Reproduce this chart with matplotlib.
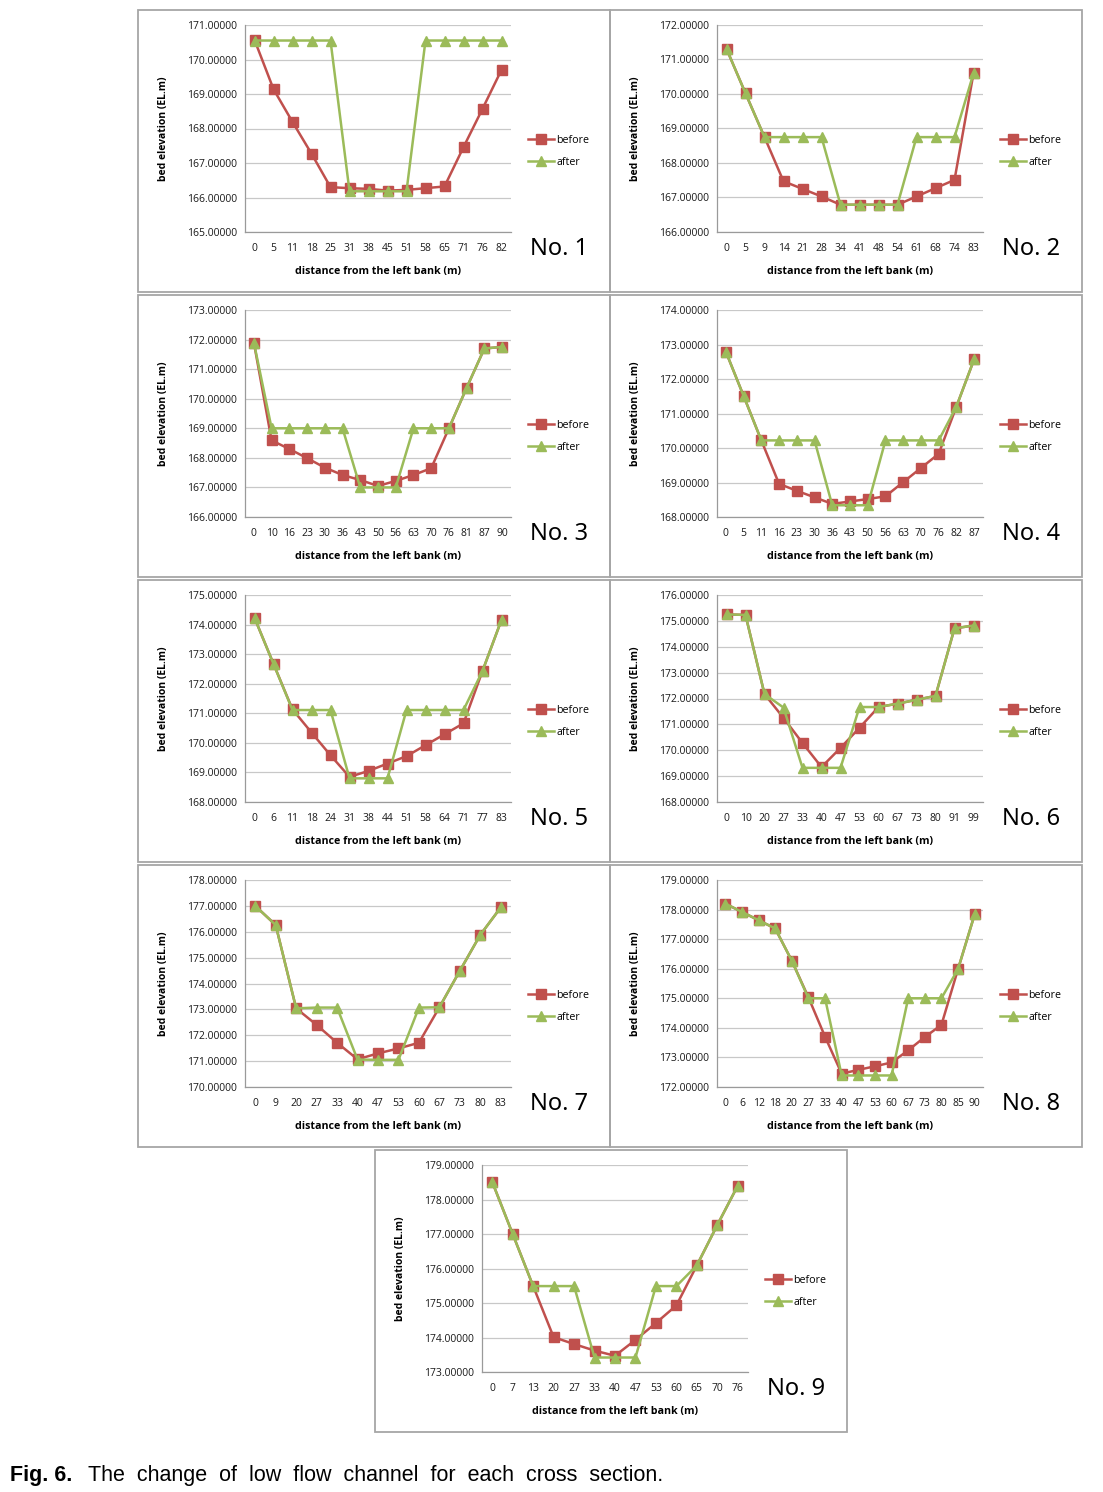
import numpy as np
import matplotlib.pyplot as plt
from matplotlib.patches import Rectangle

W, H = 1103, 1492

# ---- data ----
dist1 = ['0', '5', '11', '18', '25', '31', '38', '45', '51', '58', '65', '71', '76', '82']
before1 = [170.57, 169.14, 168.19, 167.27, 166.30, 166.27, 166.25, 166.20, 166.22, 166.27, 166.32, 167.46, 168.57, 169.70]
after1 = [170.55, 170.55, 170.55, 170.55, 170.55, 166.18, 166.18, 166.18, 166.18, 170.55, 170.55, 170.55, 170.55, 170.55]

dist2 = ['0', '5', '9', '14', '21', '28', '34', '41', '48', '54', '61', '68', '74', '83']
before2 = [171.31, 170.02, 168.75, 167.47, 167.25, 167.03, 166.79, 166.79, 166.79, 166.79, 167.03, 167.27, 167.51, 170.60]
after2 = [171.31, 170.02, 168.75, 168.75, 168.75, 168.75, 166.79, 166.79, 166.79, 166.79, 168.75, 168.75, 168.75, 170.60]

dist3 = ['0', '10', '16', '23', '30', '36', '43', '50', '56', '63', '70', '76', '81', '87', '90']
before3 = [171.90, 168.59, 168.30, 167.99, 167.67, 167.42, 167.25, 167.05, 167.22, 167.42, 167.65, 169.00, 170.37, 171.70, 171.75]
after3 = [171.90, 169.00, 169.00, 169.00, 169.00, 169.00, 167.00, 167.00, 167.00, 169.00, 169.00, 169.00, 170.37, 171.70, 171.75]

dist4 = ['0', '5', '11', '16', '23', '30', '36', '43', '50', '56', '63', '70', '76', '82', '87']
before4 = [172.79, 171.51, 170.22, 168.96, 168.76, 168.57, 168.38, 168.45, 168.52, 168.60, 169.01, 169.42, 169.83, 171.20, 172.57]
after4 = [172.79, 171.51, 170.22, 170.22, 170.22, 170.22, 168.34, 168.34, 168.34, 170.22, 170.22, 170.22, 170.22, 171.20, 172.57]

dist5 = ['0', '6', '11', '18', '24', '31', '38', '44', '51', '58', '64', '71', '77', '83']
before5 = [174.23, 172.67, 171.13, 170.35, 169.58, 168.85, 169.05, 169.30, 169.55, 169.92, 170.29, 170.66, 172.43, 174.16]
after5 = [174.23, 172.67, 171.11, 171.11, 171.11, 168.80, 168.80, 168.80, 171.11, 171.11, 171.11, 171.11, 172.43, 174.16]

dist6 = ['0', '10', '20', '27', '33', '40', '47', '53', '60', '67', '73', '80', '91', '99']
before6 = [175.25, 175.23, 172.17, 171.25, 170.28, 169.35, 170.09, 170.87, 171.67, 171.80, 171.95, 172.10, 174.71, 174.82]
after6 = [175.25, 175.23, 172.17, 171.65, 169.32, 169.32, 169.32, 171.67, 171.67, 171.80, 171.95, 172.10, 174.71, 174.82]

dist7 = ['0', '9', '20', '27', '33', '40', '47', '53', '60', '67', '73', '80', '83']
before7 = [177.00, 176.26, 173.04, 172.40, 171.71, 171.07, 171.30, 171.49, 171.71, 173.08, 174.49, 175.88, 176.94]
after7 = [177.00, 176.26, 173.04, 173.07, 173.07, 171.06, 171.05, 171.05, 173.07, 173.08, 174.49, 175.88, 176.94]

dist8 = ['0', '6', '12', '18', '20', '27', '33', '40', '47', '53', '60', '67', '73', '80', '85', '90']
before8 = [178.20, 177.92, 177.64, 177.36, 176.27, 175.03, 173.70, 172.45, 172.58, 172.70, 172.83, 173.24, 173.69, 174.10, 175.99, 177.84]
after8 = [178.20, 177.92, 177.64, 177.36, 176.27, 175.00, 175.00, 172.39, 172.39, 172.39, 172.39, 175.00, 175.00, 175.00, 175.99, 177.84]

dist9 = ['0', '7', '13', '20', '27', '33', '40', '47', '53', '60', '65', '70', '76']
before9 = [178.51, 177.00, 175.49, 174.01, 173.81, 173.62, 173.47, 173.93, 174.42, 174.93, 176.09, 177.26, 178.40]
after9 = [178.51, 177.00, 175.49, 175.49, 175.49, 173.42, 173.42, 173.42, 175.49, 175.49, 176.09, 177.26, 178.40]

ylims = [(165, 171), (166, 172), (166, 173), (168, 174), (168, 175),
         (168, 176), (170, 178), (172, 179), (173, 179)]

panels = [(dist1, before1, after1), (dist2, before2, after2), (dist3, before3, after3),
          (dist4, before4, after4), (dist5, before5, after5), (dist6, before6, after6),
          (dist7, before7, after7), (dist8, before8, after8), (dist9, before9, after9)]

# box top-left corners in pixels
boxes = [(138, 10), (610, 10), (138, 295), (610, 295), (138, 580), (610, 580),
         (138, 865), (610, 865), (375, 1150)]
BW, BH = 472, 282
PL, PT, PW, PH = 107, 15, 266, 207

RED = '#C0504D'
GREEN = '#9BBB59'

plt.rcParams['font.family'] = ['Open Sans', 'Noto Sans', 'DejaVu Sans']

fig = plt.figure(figsize=(W / 100, H / 100), dpi=100)


def frac(x, y, w, h):
    return [x / W, 1 - (y + h) / H, w / W, h / H]


for i, ((d, b, a), (bx, by), (y0, y1)) in enumerate(zip(panels, boxes, ylims)):
    fig.patches.append(Rectangle((bx / W, 1 - (by + BH) / H), BW / W, BH / H,
                                 transform=fig.transFigure, fill=False,
                                 edgecolor='#a6a6a6', linewidth=1.3))
    ax = fig.add_axes(frac(bx + PL, by + PT, PW, PH))
    x = np.arange(len(d))
    ax.plot(x, b, color=RED, marker='s', ms=6.5, lw=1.8, label='before')
    ax.plot(x, a, color=GREEN, marker='^', ms=7, lw=1.8, label='after')
    ax.set_xlim(-0.5, len(d) - 0.5)
    ax.set_ylim(y0, y1)
    ax.set_xticks(x)
    ax.set_xticklabels(d)
    yt = np.arange(y0, y1 + 1)
    ax.set_yticks(yt)
    ax.set_yticklabels(['%.5f' % v for v in yt])
    ax.tick_params(length=0, labelsize=7.5, colors='#1a1a1a')
    ax.tick_params(axis='y', pad=6)
    ax.tick_params(axis='x', pad=8)
    ax.grid(axis='y', color='#c8c8c8', lw=0.9)
    ax.set_axisbelow(True)
    for s in ['top', 'right']:
        ax.spines[s].set_visible(False)
    for s in ['left', 'bottom']:
        ax.spines[s].set_color('#9a9a9a')
        ax.spines[s].set_linewidth(0.9)
    ax.set_ylabel('bed elevation (EL.m)', fontsize=7.5, fontweight='bold')
    ax.yaxis.set_label_coords(-0.285, 0.5)
    ax.set_xlabel('distance from the left bank (m)', fontsize=7.7, fontweight='bold')
    ax.xaxis.set_label_coords(0.5, -0.165)
    ax.legend(loc='center left', bbox_to_anchor=(1.065, 0.389), frameon=False,
              fontsize=7.7, handlelength=2.4, handletextpad=0.2,
              labelspacing=1.05, borderpad=0, borderaxespad=0)
    ax.text(1.071, -0.082, 'No. %d' % (i + 1), transform=ax.transAxes,
            fontsize=17, ha='left', va='center', family=['Noto Sans', 'DejaVu Sans'])

fig.text(10 / W, 1 - 1476 / H, 'Fig. 6.', fontsize=15.5, fontweight='bold',
         family='Liberation Sans', ha='left', va='center')
fig.text(88 / W, 1 - 1476 / H, 'The  change  of  low  flow  channel  for  each  cross  section.',
         fontsize=15.5, family='Liberation Sans', ha='left', va='center')

fig.savefig('out.png', dpi=100)
